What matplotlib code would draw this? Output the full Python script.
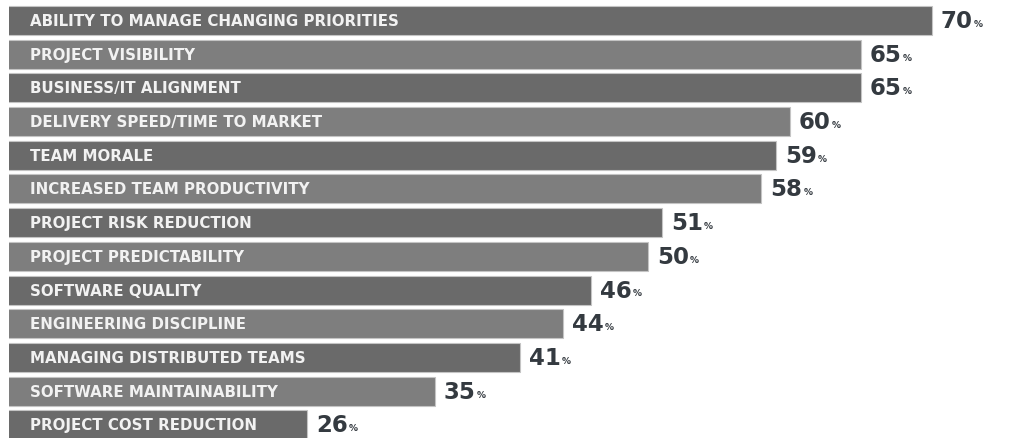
import matplotlib.pyplot as plt

labels = [
    "ABILITY TO MANAGE CHANGING PRIORITIES",
    "PROJECT VISIBILITY",
    "BUSINESS/IT ALIGNMENT",
    "DELIVERY SPEED/TIME TO MARKET",
    "TEAM MORALE",
    "INCREASED TEAM PRODUCTIVITY",
    "PROJECT RISK REDUCTION",
    "PROJECT PREDICTABILITY",
    "SOFTWARE QUALITY",
    "ENGINEERING DISCIPLINE",
    "MANAGING DISTRIBUTED TEAMS",
    "SOFTWARE MAINTAINABILITY",
    "PROJECT COST REDUCTION",
]
values = [70, 65, 65, 60, 59, 58, 51, 50, 46, 44, 41, 35, 26]

dark = "#6a6a6a"
light = "#7e7e7e"
txt = "#343a40"

fig = plt.figure(figsize=(10.27, 4.39), dpi=100)
ax = fig.add_axes([9 / 1027, 0, 1 - 9 / 1027, 1])

ypos = list(range(len(values)))
colors = [dark if i % 2 == 0 else light for i in ypos]
ax.barh(ypos, values, height=0.86, color=colors, edgecolor="#c4c4c4", linewidth=0.8)

ax.set_xlim(5, 76.7)
ax.set_ylim(12.39, -0.638)
ax.axis("off")

for i, (lab, v) in enumerate(zip(labels, values)):
    ax.text(0.0206, i, lab, transform=ax.get_yaxis_transform(),
            ha="left", va="center", color="#f2f2f2", fontsize=10.8,
            fontweight="bold", family="DejaVu Sans")
    num = ax.annotate(f"{v}", xy=(v, i), xytext=(9, 0), textcoords="offset pixels",
                      ha="left", va="center", color=txt, fontsize=16.5,
                      fontweight="bold", family="DejaVu Sans")
    ax.annotate("%", xy=(1, 0.18), xycoords=num, xytext=(1, 0),
                textcoords="offset pixels", ha="left", va="bottom",
                color=txt, fontsize=6.5, fontweight="bold", family="DejaVu Sans")

fig.savefig("out.png", dpi=100)
